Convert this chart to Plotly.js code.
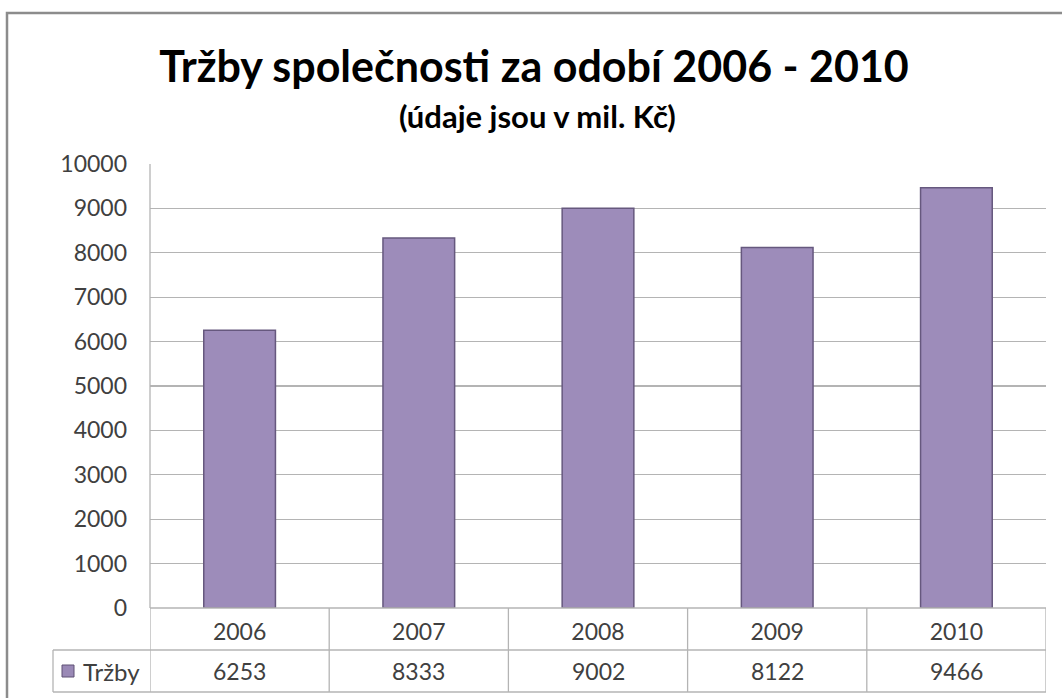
<!DOCTYPE html>
<html>
<head>
<meta charset="utf-8">
<script src="https://cdn.plot.ly/plotly-3.0.1.min.js"></script>
<style>html,body{margin:0;padding:0;background:#fff;}#chart{width:1062px;height:698px;}</style>
</head>
<body>
<div id="chart"></div>
<script>
const categories = ["2006", "2007", "2008", "2009", "2010"];
const values = [6253, 8333, 9002, 8122, 9466];
const seriesName = "Tržby";
const titleText = "Tržby společnosti za odobí 2006 - 2010";
const subtitleText = "(údaje jsou v mil. Kč)";

const W = 1062, H = 698;
const L = 150, R = 16, T = 164, B = 90;
const pw = W - L - R, ph = H - T - B;
const px = x => (x - L) / pw;
const py = y => (H - B - y) / ph;

const font = "Lato, 'Open Sans', sans-serif";
const gridCol = "#b4b4b4";
const textCol = "#404040";
const tickSize = 23;

const shapes = [];
// outer chart border (extends off page right/bottom)
shapes.push({type:'rect', xref:'paper', yref:'paper', x0:px(7), x1:px(1080), y0:py(720), y1:py(13),
  line:{color:'#8c8c8c', width:2.5}, fillcolor:'rgba(0,0,0,0)', layer:'below'});
// table horizontal lines
[650, 692].forEach(y => shapes.push({type:'line', xref:'paper', yref:'paper', x0:px(53), x1:1, y0:py(y), y1:py(y), line:{color:gridCol, width:1.3}}));
shapes.push({type:'line', xref:'paper', yref:'paper', x0:0, x1:1, y0:0, y1:0, line:{color:gridCol, width:1.3}});
// table vertical lines at category boundaries
for (let i = 0; i <= categories.length; i++) {
  shapes.push({type:'line', xref:'x', yref:'paper', x0:i - 0.5, x1:i - 0.5, y0:py(692), y1:0, line:{color:gridCol, width:1.3}});
}
// left edge of legend cell
shapes.push({type:'line', xref:'paper', yref:'paper', x0:px(53), x1:px(53), y0:py(692), y1:py(650), line:{color:gridCol, width:1.3}});
// plot-area left border
shapes.push({type:'line', xref:'paper', yref:'paper', x0:0, x1:0, y0:0, y1:1, line:{color:gridCol, width:1.3}});
// legend key square
shapes.push({type:'rect', xref:'paper', yref:'paper', x0:px(62), x1:px(74), y0:py(677), y1:py(665),
  line:{color:'#5e5075', width:1}, fillcolor:'#9a89b6'});

const annotations = [];
annotations.push({xref:'paper', yref:'paper', x:px(537), y:py(116), text:'<b>' + subtitleText + '</b>', showarrow:false,
  font:{family:font, size:31, color:'#000'}, xanchor:'center', yanchor:'middle'});
categories.forEach((c, i) => {
  annotations.push({xref:'x', yref:'paper', x:i, y:py(671), text:String(values[i]), showarrow:false,
    font:{family:font, size:tickSize, color:textCol}, xanchor:'center', yanchor:'middle'});
});
annotations.push({xref:'paper', yref:'paper', x:px(81), y:py(671), text:seriesName, showarrow:false,
  font:{family:font, size:tickSize + 1, color:textCol}, xanchor:'left', yanchor:'middle'});

const trace = {
  type:'bar', x:categories, y:values, name:seriesName, width:0.4,
  marker:{color:'#9d8cba', line:{color:'#66587e', width:1.5}},
  hoverinfo:'x+y'
};

const layout = {
  width:W, height:H,
  margin:{l:L, r:R, t:T, b:B, pad:0},
  paper_bgcolor:'#ffffff', plot_bgcolor:'#ffffff',
  showlegend:false,
  title:{text:'<b>' + titleText + '</b>', font:{family:font, size:43, color:'#000'}, x:px(534), xref:'paper', xanchor:'center', y:1 - 67 / H, yanchor:'middle'},
  xaxis:{type:'category', range:[-0.5, 4.5], showgrid:false, zeroline:false, showline:false, ticks:'',
    tickfont:{family:font, size:tickSize, color:textCol}, ticklabelstandoff:8},
  yaxis:{range:[0, 10000], dtick:1000, tick0:0, tickformat:'d', showgrid:true, gridcolor:gridCol, gridwidth:1.3, zeroline:false, showline:false,
    ticks:'', tickfont:{family:font, size:tickSize, color:textCol}, ticklabelstandoff:22},
  shapes:shapes, annotations:annotations,
  bargap:0.6
};

Plotly.newPlot('chart', [trace], layout, {displayModeBar:false, staticPlot:true});
</script>
</body>
</html>
